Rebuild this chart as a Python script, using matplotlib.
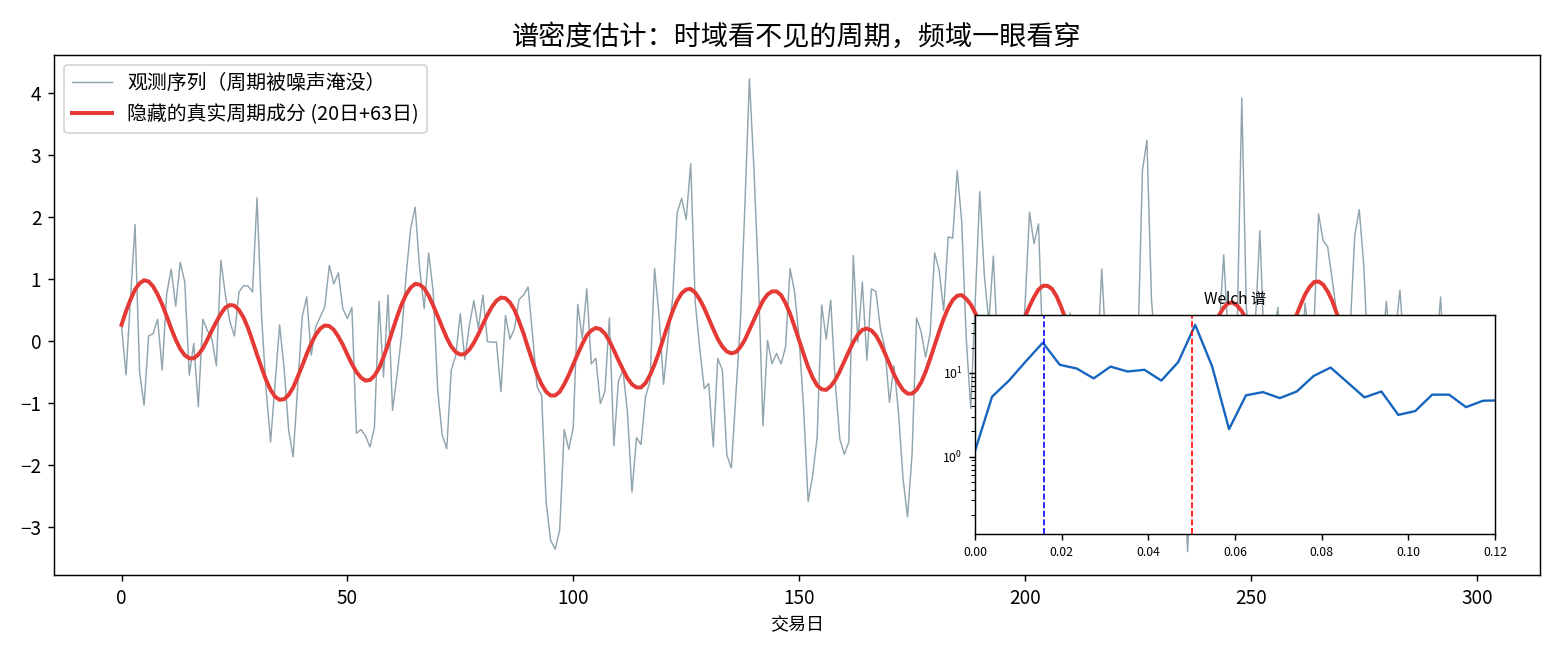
import matplotlib
matplotlib.use('Agg')
import matplotlib.pyplot as plt
import numpy as np

plt.rcParams['font.family'] = ['Noto Sans CJK SC', 'DejaVu Sans']
plt.rcParams['axes.unicode_minus'] = True

# 观测序列 (交易日 0..299)
observado = [
    0.25, -0.55, 0.70, 1.88, -0.50, -1.04, 0.08, 0.12, 0.35, -0.47,
    0.76, 1.16, 0.56, 1.27, 0.95, -0.55, -0.04, -1.06, 0.35, 0.17,
    0.04, -0.40, 1.30, 0.74, 0.31, 0.08, 0.79, 0.89, 0.89, 0.79,
    2.31, 0.40, -0.77, -1.63, -0.69, 0.26, -0.45, -1.44, -1.87, -0.74,
    0.39, 0.71, -0.23, 0.23, 0.39, 0.55, 1.22, 0.92, 1.10, 0.52,
    0.36, 0.54, -1.49, -1.43, -1.53, -1.71, -1.39, 0.64, -0.58, 0.74,
    -1.12, -0.55, 0.09, 1.06, 1.81, 2.16, 1.17, 0.52, 1.42, 0.79,
    -0.80, -1.52, -1.74, -0.47, -0.23, 0.44, -0.30, 0.25, 0.65, 0.20,
    0.74, -0.01, -0.02, -0.02, -0.82, 0.41, 0.03, 0.20, 0.67, 0.74,
    0.87, 0.09, -0.74, -0.88, -2.60, -3.22, -3.36, -3.05, -1.43, -1.75,
    -1.40, 0.59, 0.04, 0.84, -0.37, -0.28, -1.01, -0.82, 0.37, -1.69,
    -0.65, -0.47, -1.15, -2.44, -1.56, -1.67, -0.90, -0.65, 1.17, 0.41,
    -0.70, 0.04, 0.68, 2.07, 2.30, 1.96, 2.86, 0.63, -0.12, -0.77,
    -0.69, -1.71, -0.28, -0.47, -1.84, -2.05, -0.88, 0.31, 2.19, 4.23,
    2.78, 1.00, -1.37, 0.01, -0.37, -0.20, -0.37, -0.10, 1.17, 0.79,
    0.05, -1.10, -2.59, -2.17, -1.55, 0.58, 0.03, 0.66, -0.66, -1.58,
    -1.83, -1.63, 1.38, -0.02, 0.95, -0.31, 0.84, 0.80, 0.20, -0.12,
    -0.99, -0.40, -1.15, -2.22, -2.84, -1.84, 0.37, 0.15, -0.26, 0.12,
    1.42, 1.14, 0.49, 1.68, 1.66, 2.75, 1.92, 0.04, -1.09, 0.66,
    2.41, 1.06, 0.30, 1.37, -0.20, -0.60, 0.10, -0.90, -0.30, -0.50,
    0.55, 2.08, 1.57, 1.89, -0.30, 0.10, -0.80, 0.20, -0.50, -1.00,
    0.45, -0.40, -1.20, -0.60, -1.50, -0.90, -0.30, 1.16, -0.20, -0.80,
    -1.30, 0.00, -0.60, 0.20, -0.40, -0.10, 2.75, 3.24, 0.68, -0.30,
    -1.10, -0.50, -1.40, -0.80, -1.90, -1.60, -3.40, -1.80, -0.70, -1.20,
    -0.30, 0.10, -0.60, 0.20, 1.39, 0.00, -0.40, 0.30, 3.92, 0.55,
    -0.30, 0.30, 1.78, -0.20, -0.90, 0.10, 0.54, -0.60, -0.20, -1.00,
    0.30, -0.50, 0.61, 0.00, 0.30, 2.05, 1.62, 1.52, 1.00, 0.45,
    -0.30, -0.80, 0.20, 1.70, 2.12, 1.22, -0.40, -1.10, -0.60, -0.20,
    0.64, -0.30, 0.10, 0.82, -0.20, 0.30, -0.50, -0.10, -0.90, -1.30,
    -0.70, -0.20, 0.71, -0.60, -1.40, -0.80, -1.60, -1.00, -0.40, -1.20,
]

# 隐藏的真实周期成分
verdadeiro = [
    0.26, 0.48, 0.67, 0.83, 0.93, 0.98, 0.96, 0.88, 0.75, 0.59,
    0.40, 0.20, 0.02, -0.13, -0.23, -0.28, -0.28, -0.22, -0.12, 0.02,
    0.17, 0.31, 0.44, 0.54, 0.58, 0.57, 0.50, 0.38, 0.21, 0.00,
    -0.22, -0.43, -0.63, -0.79, -0.90, -0.95, -0.94, -0.87, -0.75, -0.58,
    -0.40, -0.21, -0.04, 0.10, 0.20, 0.25, 0.24, 0.18, 0.07, -0.06,
    -0.22, -0.37, -0.50, -0.59, -0.64, -0.63, -0.56, -0.44, -0.26, -0.06,
    0.17, 0.39, 0.59, 0.75, 0.86, 0.92, 0.91, 0.85, 0.73, 0.57,
    0.40, 0.22, 0.05, -0.09, -0.18, -0.22, -0.21, -0.14, -0.03, 0.11,
    0.27, 0.42, 0.55, 0.65, 0.70, 0.69, 0.62, 0.50, 0.32, 0.12,
    -0.11, -0.33, -0.54, -0.70, -0.82, -0.88, -0.88, -0.82, -0.70, -0.55,
    -0.38, -0.21, -0.05, 0.09, 0.17, 0.21, 0.19, 0.12, 0.00, -0.15,
    -0.31, -0.46, -0.60, -0.70, -0.75, -0.75, -0.68, -0.55, -0.38, -0.18,
    0.05, 0.27, 0.48, 0.65, 0.77, 0.83, 0.84, 0.78, 0.67, 0.53,
    0.36, 0.19, 0.03, -0.09, -0.17, -0.20, -0.18, -0.10, 0.02, 0.18,
    0.34, 0.50, 0.65, 0.75, 0.80, 0.80, 0.74, 0.61, 0.44, 0.23,
    0.01, -0.21, -0.42, -0.59, -0.72, -0.78, -0.79, -0.73, -0.63, -0.49,
    -0.33, -0.17, -0.02, 0.10, 0.18, 0.20, 0.17, 0.09, -0.04, -0.20,
    -0.37, -0.54, -0.68, -0.79, -0.85, -0.85, -0.79, -0.67, -0.50, -0.29,
    -0.07, 0.15, 0.36, 0.53, 0.66, 0.73, 0.74, 0.68, 0.59, 0.45,
    0.29, 0.13, -0.01, -0.12, -0.19, -0.21, -0.17, -0.08, 0.05, 0.21,
    0.39, 0.56, 0.71, 0.83, 0.89, 0.89, 0.84, 0.72, 0.55, 0.35,
    0.13, -0.10, -0.30, -0.47, -0.60, -0.67, -0.68, -0.63, -0.53, -0.40,
    -0.25, -0.09, 0.05, 0.15, 0.22, 0.23, 0.19, 0.09, -0.04, -0.21,
    -0.40, -0.58, -0.73, -0.85, -0.92, -0.93, -0.88, -0.76, -0.60, -0.40,
    -0.18, 0.04, 0.24, 0.42, 0.54, 0.61, 0.62, 0.57, 0.48, 0.35,
    0.20, 0.05, -0.09, -0.19, -0.25, -0.26, -0.21, -0.11, 0.03, 0.21,
    0.40, 0.58, 0.75, 0.87, 0.95, 0.96, 0.91, 0.80, 0.65, 0.45,
    0.23, 0.01, -0.19, -0.36, -0.48, -0.55, -0.56, -0.51, -0.42, -0.29,
    -0.15, 0.00, 0.14, 0.24, 0.29, 0.29, 0.24, 0.13, -0.02, -0.20,
    -0.39, -0.58, -0.75, -0.88, -0.96, -0.98, -0.94, -0.84, -0.68, -0.49,
]

# Welch 谱 (nperseg=256, 只保留 0..0.12 附近)
welch_k = list(range(32))
welch_psd = [1.18, 5.2, 8.1, 13.8, 23.0, 12.5, 11.3, 8.6, 11.9, 10.4,
             10.9, 8.1, 13.5, 37.5, 12.0, 2.13, 5.4, 5.9, 5.0, 6.0,
             9.2, 11.6, 7.7, 5.1, 6.0, 3.15, 3.5, 5.5, 5.5, 3.9,
             4.65, 4.7]
periodos = [63, 20]
cores_periodo = ['blue', 'red']

dias = np.arange(len(observado))
freqs = np.array(welch_k) / 256

fig, ax = plt.subplots(figsize=(12, 5), dpi=130)
fig.subplots_adjust(left=0.0346, right=0.987, top=0.915, bottom=0.115)

ax.plot(dias, observado, c='#90A4AE', lw=0.8, label='观测序列（周期被噪声淹没）')
ax.plot(dias, verdadeiro, c='#E53935', lw=2.2, label='隐藏的真实周期成分 (20日+63日)')
ax.set_xlabel('交易日', fontsize=10)
ax.set_title('谱密度估计：时域看不见的周期，频域一眼看穿', fontsize=15)
ax.legend(loc='upper left', fontsize=11)
ax.tick_params(labelsize=10.5)

# inset com o espectro
axin = ax.inset_axes([0.62, 0.08, 0.35, 0.42])
axin.semilogy(freqs, welch_psd, c='#1565C0', lw=1.3)
for p, c in zip(periodos, cores_periodo):
    axin.axvline(1 / p, color=c, ls='--', lw=0.9)
axin.set_xlim(0, 0.12)
axin.set_ylim(0.12, 48.9)
axin.set_title('Welch 谱', fontsize=8.5)
axin.tick_params(labelsize=6.8)

fig.savefig('out.png', dpi=130)
